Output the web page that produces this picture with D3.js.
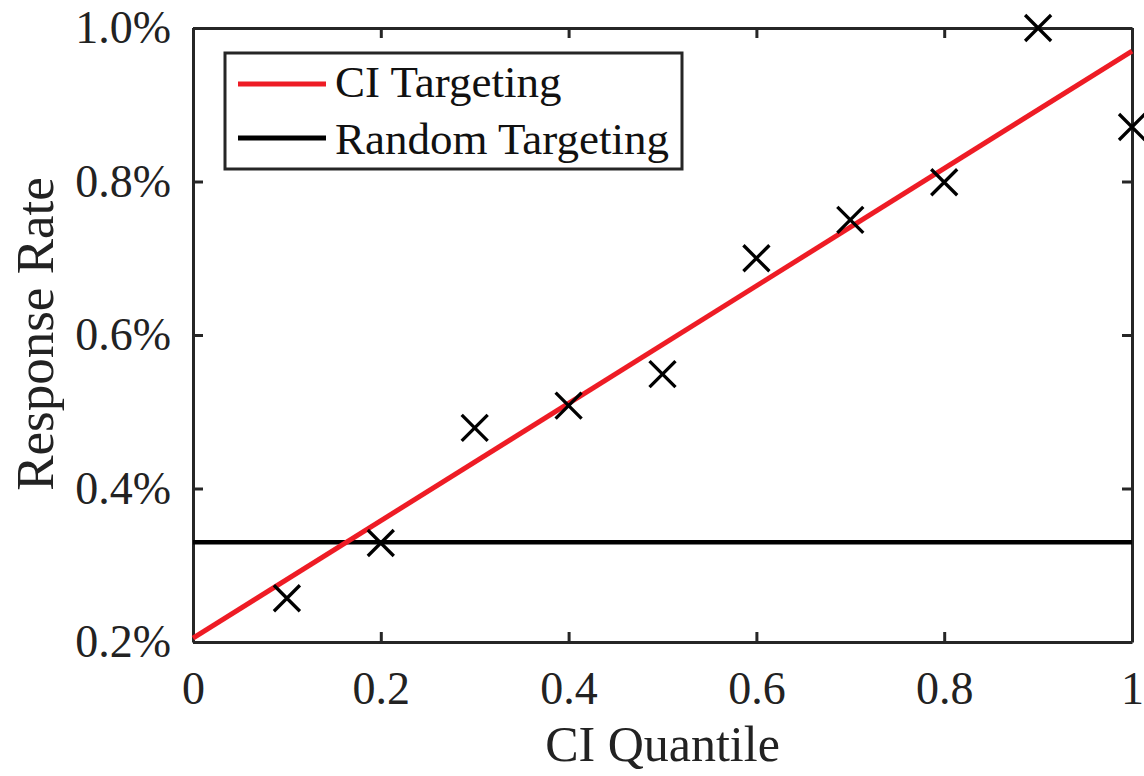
<!DOCTYPE html>
<html><head><meta charset="utf-8">
<script src="https://cdn.jsdelivr.net/npm/d3@7"></script>
<style>body{margin:0;background:#fff}svg{display:block}</style>
</head><body><svg id="c" width="1144" height="776"></svg>
<script>
const quantiles = [0.1,0.2,0.3,0.4,0.5,0.6,0.7,0.8,0.9,1.0];
const responseRate = [0.257,0.329,0.479,0.508,0.549,0.700,0.750,0.799,1.000,0.871];
const ciFitX = [0,1];
const ciFitY = [0.205,0.970];
const randomX = [0,1];
const randomY = [0.330,0.330];
const xTicks = [0,0.2,0.4,0.6,0.8,1];
const yTicks = [0.2,0.4,0.6,0.8,1.0];
const seriesNames = ["CI Targeting","Random Targeting"];

(function(){
const svg = d3.select("#c");
const L=193,R=1132,T=28,B=642;
const FONT = "'Liberation Serif', serif";
const x = d3.scaleLinear().domain([0,1]).range([L,R]);
const y = d3.scaleLinear().domain([0.2,1.0]).range([B,T]);
const axc = "#262626";
const txc = "#222";

const ax = svg.append("g");
const axBottom = d3.axisBottom(x).tickValues(xTicks).tickSizeInner(-10).tickSizeOuter(0).tickPadding(31).tickFormat(d=>d===0?"0":d===1?"1":d3.format(".1f")(d));
const axLeft = d3.axisLeft(y).tickValues(yTicks).tickSizeInner(-10).tickSizeOuter(0).tickPadding(22).tickFormat(d=>d3.format(".1f")(d)+"%");
const axTop = d3.axisTop(x).tickValues(xTicks).tickSizeInner(-10).tickSizeOuter(0).tickFormat("");
const axRight = d3.axisRight(y).tickValues(yTicks).tickSizeInner(-10).tickSizeOuter(0).tickFormat("");
const gB = ax.append("g").attr("transform",`translate(0,${B})`).call(axBottom);
const gL = ax.append("g").attr("transform",`translate(${L},0)`).call(axLeft);
const gT = ax.append("g").attr("transform",`translate(0,${T})`).call(axTop);
const gR = ax.append("g").attr("transform",`translate(${R},0)`).call(axRight);
[gB,gL,gT,gR].forEach(g=>{
  g.selectAll("path").attr("stroke",axc).attr("stroke-width",3);
  g.selectAll("line").attr("stroke",axc).attr("stroke-width",3);
  g.selectAll("text").attr("fill",txc).style("font-family",FONT).style("font-size","46px");
});
gB.selectAll("text").attr("dy","0.68em");

const line = d3.line().x(d=>x(d[0])).y(d=>y(d[1]));
svg.append("path").datum(randomX.map((v,i)=>[v,randomY[i]])).attr("d",line)
  .attr("stroke","#000").attr("stroke-width",4.5).attr("fill","none");
svg.append("path").datum(ciFitX.map((v,i)=>[v,ciFitY[i]])).attr("d",line)
  .attr("stroke","#ee1c25").attr("stroke-width",5).attr("fill","none");

const ms = 13;
const mk = svg.append("g");
quantiles.forEach((q,i)=>{
  const cx=x(q), cy=y(responseRate[i]);
  mk.append("path").attr("d",`M${cx-ms},${cy-ms}L${cx+ms},${cy+ms}M${cx-ms},${cy+ms}L${cx+ms},${cy-ms}`)
    .attr("stroke","#000").attr("stroke-width",3.3).attr("fill","none");
});

const lg = svg.append("g");
lg.append("rect").attr("x",225).attr("y",53).attr("width",457).attr("height",116)
  .attr("fill","#fff").attr("stroke",axc).attr("stroke-width",3);
const lcol = ["#ee1c25","#000"];
seriesNames.forEach((n,i)=>{
  const yy = 84 + i*54;
  lg.append("line").attr("x1",238).attr("x2",326).attr("y1",yy).attr("y2",yy)
    .attr("stroke",lcol[i]).attr("stroke-width",5);
  lg.append("text").attr("x",335).attr("y",97 + i*57).text(n)
    .attr("fill","#111").style("font-family",FONT).style("font-size","45px");
});

svg.append("text").attr("x",(L+R)/2).attr("y",761).attr("text-anchor","middle").text("CI Quantile")
  .attr("fill",txc).style("font-family",FONT).style("font-size","50px");
svg.append("text").attr("transform",`translate(53,${(T+B)/2-1}) rotate(-90)`).attr("text-anchor","middle").text("Response Rate")
  .attr("fill",txc).style("font-family",FONT).style("font-size","53px");
})();
</script></body></html>
